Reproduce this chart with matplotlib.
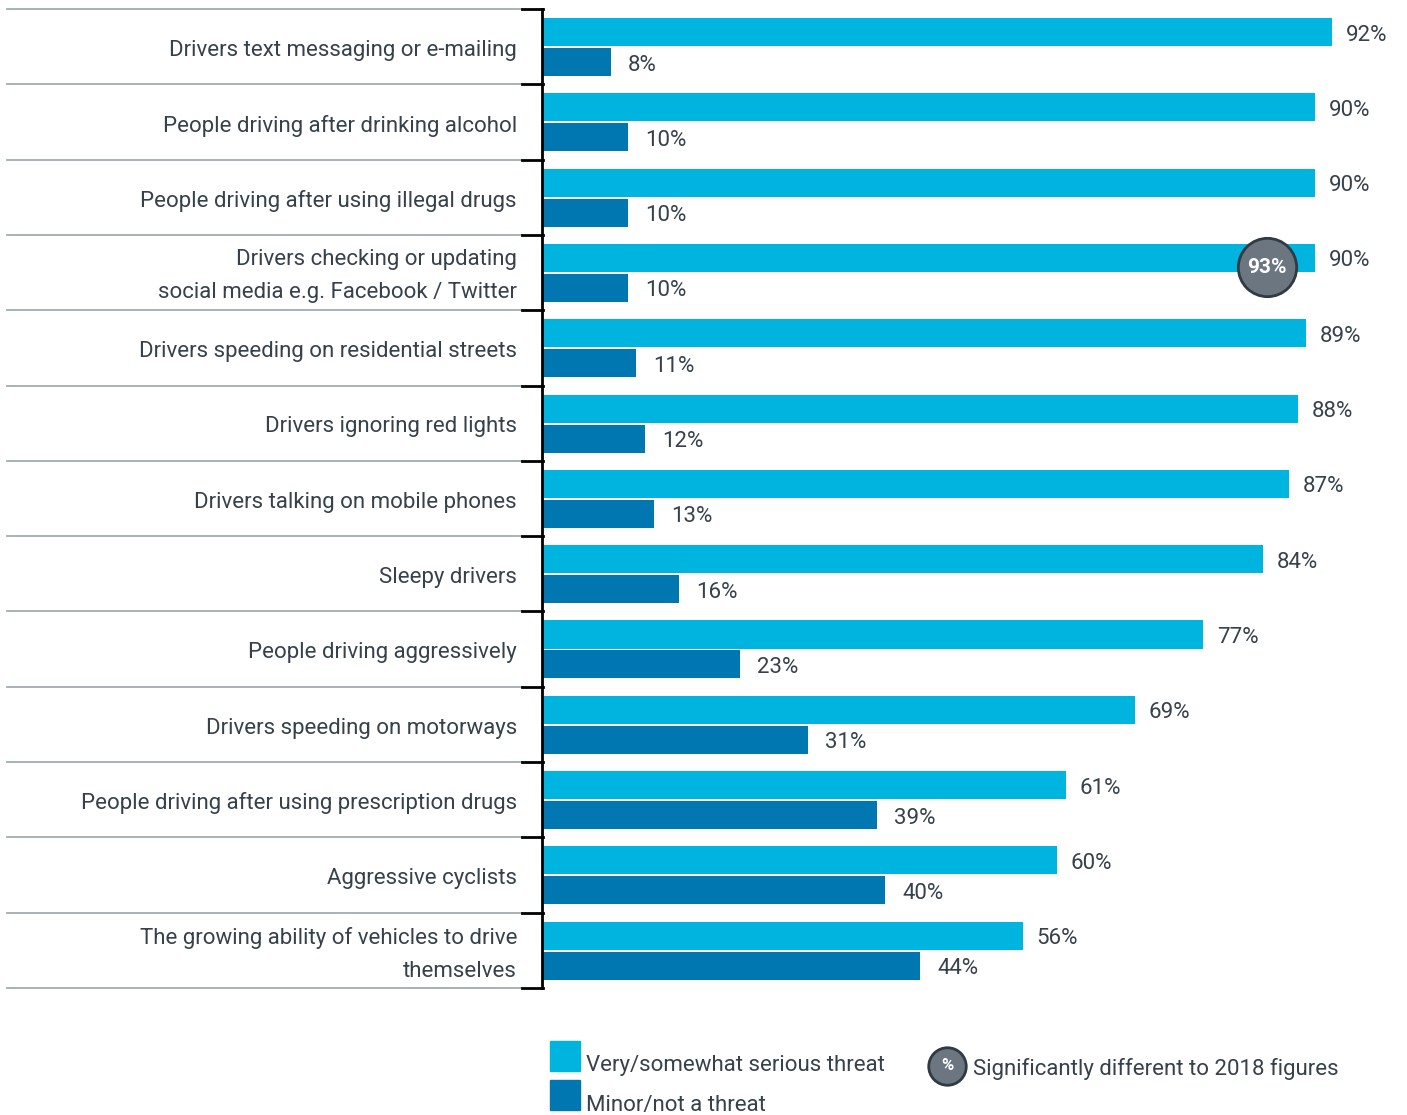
import matplotlib
matplotlib.use('Agg')
import matplotlib.pyplot as plt
from matplotlib.patches import Rectangle
from matplotlib.transforms import blended_transform_factory

plt.rcParams['font.family'] = ['Roboto', 'DejaVu Sans']

categories = [
    'Drivers text messaging or e-mailing',
    'People driving after drinking alcohol',
    'People driving after using illegal drugs',
    'Drivers checking or updating\nsocial media e.g. Facebook / Twitter',
    'Drivers speeding on residential streets',
    'Drivers ignoring red lights',
    'Drivers talking on mobile phones',
    'Sleepy drivers',
    'People driving aggressively',
    'Drivers speeding on motorways',
    'People driving after using prescription drugs',
    'Aggressive cyclists',
    'The growing ability of vehicles to drive\nthemselves',
]
serious = [92, 90, 90, 90, 89, 88, 87, 84, 77, 69, 61, 60, 56]
minor = [8, 10, 10, 10, 11, 12, 13, 16, 23, 31, 39, 40, 44]
# row index -> 2018 comparison value shown in a circle
significant = {3: 93}

light = '#00b4e0'
dark = '#0077b0'
txt = '#36414b'

W, H = 1407, 1115
fig = plt.figure(figsize=(W / 100, H / 100), dpi=100)
ax = fig.add_axes([542 / W, 1 - 988 / H, 858.7 / W, 979 / H])
ax.set_xlim(0, 100)
ax.set_ylim(len(categories), 0)
ax.axis('off')

n = len(categories)
bh = 0.372
y_light = [i + 0.12 + bh / 2 for i in range(n)]
y_dark = [i + 0.518 + bh / 2 for i in range(n)]
ax.barh(y_light, serious, height=bh, color=light)
ax.barh(y_dark, minor, height=bh, color=dark)

fs = 16
for i in range(n):
    ax.text(serious[i] + 1.6, y_light[i] + 0.04, f'{serious[i]}%', va='center',
            ha='left', fontsize=fs, color=txt)
    ax.text(minor[i] + 2.0, y_dark[i] + 0.04, f'{minor[i]}%', va='center',
            ha='left', fontsize=fs, color=txt)

for i, v in significant.items():
    ax.plot([serious[i] - 5.6], [i + 0.43], 'o', ms=42, mfc='#6b7680',
            mec='#2f3a42', mew=2, zorder=5)
    ax.text(serious[i] - 5.6, i + 0.43, f'{v}%', ha='center', va='center',
            fontsize=15, color='white', fontweight='bold', zorder=6)

# row separators and category labels
tr = blended_transform_factory(fig.transFigure, ax.transData)
for k in range(n + 1):
    ax.plot([7 / W, 522 / W], [k, k], color='#a3abb3', lw=1.3, transform=tr,
            clip_on=False)
    ax.plot([522 / W, 543 / W], [k, k], color='black', lw=2, transform=tr,
            clip_on=False)
ax.plot([0, 0], [0, n], color='black', lw=2, clip_on=False)

for i, lab in enumerate(categories):
    ax.text(517 / W, i + 0.55, lab, transform=tr, ha='right', va='center',
            fontsize=fs, color=txt, linespacing=1.75)

# legend
fig.patches.append(Rectangle((550 / W, 1 - 1071 / H), 30 / W, 30 / H,
                             transform=fig.transFigure, color=light))
fig.patches.append(Rectangle((550 / W, 1 - 1110 / H), 30 / W, 30 / H,
                             transform=fig.transFigure, color=dark))
fig.text(586 / W, 1 - 1065 / H, 'Very/somewhat serious threat', ha='left',
         va='center', fontsize=fs, color=txt)
fig.text(586 / W, 1 - 1105 / H, 'Minor/not a threat', ha='left',
         va='center', fontsize=fs, color=txt)
fig.lines.append(plt.Line2D([947 / W], [1 - 1066 / H], marker='o', ms=27,
                            mfc='#6b7680', mec='#2f3a42', mew=2,
                            transform=fig.transFigure))
fig.text(947 / W, 1 - 1066 / H, '%', ha='center', va='center', fontsize=12,
         color='white', fontweight='bold')
fig.text(973 / W, 1 - 1069 / H, 'Significantly different to 2018 figures',
         ha='left', va='center', fontsize=fs, color=txt)

fig.savefig('out.png', dpi=100, facecolor='white')
